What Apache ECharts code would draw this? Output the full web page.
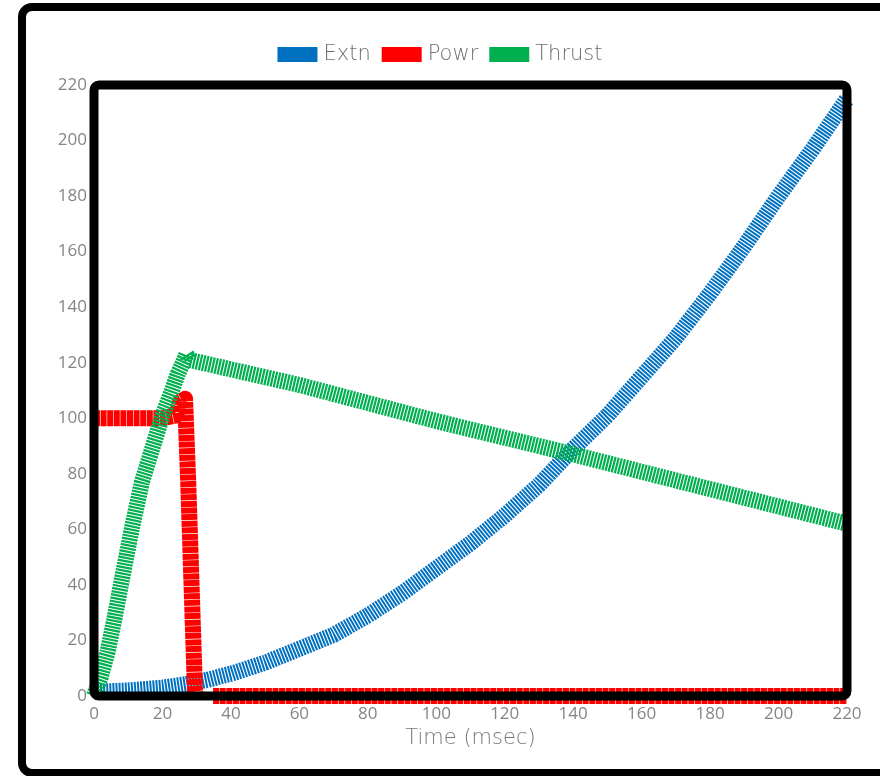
<!DOCTYPE html>
<html>
<head>
<meta charset="utf-8">
<style>
  html, body { margin: 0; padding: 0; background: #ffffff; }
  #chart { width: 880px; height: 776px; }
</style>
<script src="https://cdn.jsdelivr.net/npm/echarts@6/dist/echarts.min.js"></script>
</head>
<body>
<div id="chart"></div>
<script>
// Motor test trace: extension, power and thrust against time (msec)
const seriesNames = ['Extn', 'Powr', 'Thrust'];
const seriesColors = ['#0070c0', '#ff0000', '#00b050'];

const extnTime = [0, 10, 20, 27, 33, 40, 50, 60, 70, 80, 90, 100, 110, 120, 130, 140, 150, 160, 170, 180, 190, 200, 210, 220];
const extnValues = [1.5, 2, 3, 4.3, 5.8, 8, 12, 17, 22, 29, 37, 46, 55, 65, 76, 89, 101, 115, 129, 145, 162, 180, 197, 215];

const powrTime = [0, 5, 10, 15, 20, 24, 25.2, 26.6, 27.5, 28.5, 29.5, 29.8, 31, 34.8, 60, 100, 140, 180, 220];
const powrValues = [100, 100, 100, 100, 100, 101, 106, 107, 78, 40, 2, 0, null, 0, 0, 0, 0, 0, 0];

const thrustTime = [0, 2, 4, 6, 8, 11, 14, 17, 20, 22.5, 24.5, 26, 27, 28, 60, 100, 140, 180, 220];
const thrustValues = [0, 7, 16, 28, 41, 60, 77, 89, 101, 109, 116, 120, 123, 121, 112, 99, 87, 74.5, 62];

const xTicks = { min: 0, max: 220, interval: 20 };
const yTicks = { min: 0, max: 220, interval: 20 };

function pairs(ts, vs) {
  return ts.map((t, i) => [t, vs[i]]);
}

const FONT = "'DejaVu Sans', 'Noto Sans', sans-serif";
const TICK_FONT = "'Open Sans', 'Noto Sans', sans-serif";
const GRID = { left: 94, top: 85, right: 33, bottom: 80 };

const chart = echarts.init(document.getElementById('chart'), null, { renderer: 'canvas' });

const lineSeries = [
  { data: pairs(extnTime, extnValues), dash: [2, 1.1] },
  { data: pairs(powrTime, powrValues), dash: [6, 0.6] },
  { data: pairs(thrustTime, thrustValues), dash: [2.2, 1] }
].map((s, i) => ({
  name: seriesNames[i],
  type: 'line',
  data: s.data,
  showSymbol: false,
  connectNulls: false,
  smooth: false,
  animation: false,
  z: 2 + i,
  lineStyle: {
    color: seriesColors[i],
    width: 16,
    type: s.dash,
    cap: 'butt',
    join: 'round'
  },
  emphasis: { disabled: true }
}));

chart.setOption({
  animation: false,
  backgroundColor: '#ffffff',
  color: seriesColors,
  legend: {
    data: seriesNames,
    top: 39,
    left: 'center',
    icon: 'rect',
    itemWidth: 40,
    itemHeight: 15,
    itemGap: 11,
    textStyle: { fontFamily: FONT, fontSize: 21, fontWeight: 200, color: '#6e6e6e', padding: [0, 0, 0, 1] }
  },
  grid: { left: GRID.left, top: GRID.top, right: GRID.right, bottom: GRID.bottom, show: false },
  xAxis: {
    type: 'value',
    min: xTicks.min, max: xTicks.max, interval: xTicks.interval,
    name: 'Time (msec)',
    nameLocation: 'middle',
    nameGap: 32,
    nameTextStyle: { fontFamily: FONT, fontSize: 21, fontWeight: 200, color: '#777777' },
    axisLine: { show: false },
    axisTick: { show: false },
    splitLine: { show: false },
    axisLabel: { fontFamily: TICK_FONT, fontSize: 17, fontWeight: 400, color: '#858585', margin: 10 }
  },
  yAxis: {
    type: 'value',
    min: yTicks.min, max: yTicks.max, interval: yTicks.interval,
    axisLine: { show: false },
    axisTick: { show: false },
    splitLine: { show: false },
    axisLabel: { fontFamily: TICK_FONT, fontSize: 17, fontWeight: 400, color: '#858585', margin: 7, padding: [4, 0, 0, 0] }
  },
  series: lineSeries
});

// Frames: outer card border and the heavy plot-area border drawn over the traces
const gw = 880 - GRID.left - GRID.right;
const gh = 776 - GRID.top - GRID.bottom;
chart.setOption({
  graphic: [
    {
      type: 'rect', z: 100, silent: true,
      shape: { x: 22, y: 7, width: 900, height: 766, r: 10 },
      style: { fill: null, stroke: '#000000', lineWidth: 8 }
    },
    {
      type: 'rect', z: 100, silent: true,
      shape: { x: GRID.left, y: GRID.top, width: gw, height: gh, r: 5 },
      style: { fill: null, stroke: '#000000', lineWidth: 9 }
    }
  ]
});
</script>
</body>
</html>
